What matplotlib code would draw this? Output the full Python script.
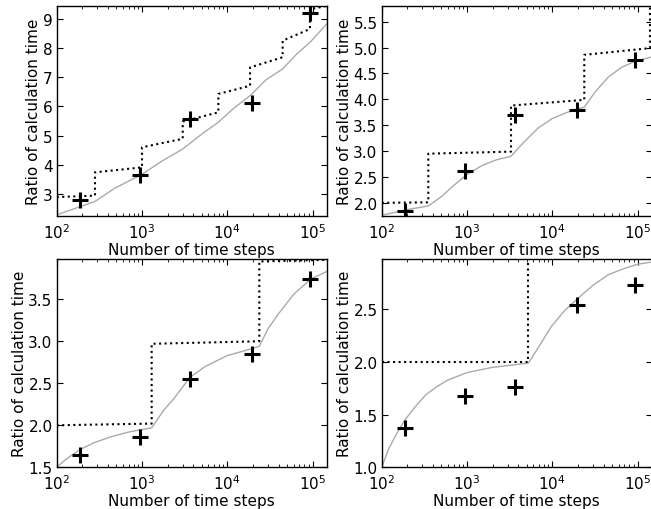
"""
Ratio of calculation time vs number of time steps, four cases
"""

import matplotlib
matplotlib.use("Agg")
import matplotlib.pyplot as plt


# DATA

# measured runs (crosses), same step counts in every panel
steps = [190, 950, 3650, 19500, 94000]
ratio_a = [2.78, 3.64, 5.56, 6.11, 9.20]
ratio_b = [1.84, 2.62, 3.69, 3.80, 4.76]
ratio_c = [1.65, 1.86, 2.55, 2.85, 3.74]
ratio_d = [1.37, 1.68, 1.76, 2.54, 2.73]

# model (grey line)
model_x_a = [100, 281, 482, 1000, 1700, 3000, 5000, 7850, 12000, 18460,
             28000, 44500, 65000, 93000, 146000]
model_y_a = [2.28, 2.74, 3.20, 3.67, 4.12, 4.54, 5.05, 5.46, 5.95, 6.37,
             6.90, 7.29, 7.80, 8.20, 8.83]
model_x_b = [100, 200, 352, 500, 660, 1000, 1500, 2200, 3280, 4500, 6860,
             10000, 15000, 23700, 32000, 45300, 65000, 94800, 146000]
model_y_b = [1.76, 1.87, 1.94, 2.12, 2.30, 2.55, 2.72, 2.83, 2.90, 3.15, 3.45,
             3.63, 3.75, 3.85, 4.15, 4.43, 4.62, 4.74, 4.82]
model_x_c = [100, 130, 187, 270, 422, 700, 1000, 1297, 1800, 2330, 3650, 5500,
             10000, 15000, 23700, 30000, 40000, 60000, 94800, 146000]
model_y_c = [1.50, 1.60, 1.71, 1.79, 1.86, 1.92, 1.95, 1.97, 2.18, 2.31, 2.57,
             2.70, 2.83, 2.88, 2.94, 3.15, 3.33, 3.56, 3.74, 3.83]
model_x_d = [100, 120, 150, 187, 250, 330, 450, 600, 1000, 2000, 5240, 7000,
             9770, 14000, 19600, 30000, 45300, 70000, 100000, 146000]
model_y_d = [1.00, 1.17, 1.32, 1.45, 1.58, 1.69, 1.77, 1.83, 1.90, 1.95, 1.99,
             2.15, 2.34, 2.49, 2.60, 2.73, 2.83, 2.89, 2.93, 2.95]

# upper bound (dotted step line)
bound_x_a = [100, 281, 281, 1000, 1000, 3000, 3000, 7850, 7850, 18460, 18460,
             44500, 44500, 93000, 93000, 146000]
bound_y_a = [2.89, 2.94, 3.74, 3.91, 4.60, 4.89, 5.48, 5.80, 6.43, 6.71, 7.34,
             7.69, 8.26, 8.66, 9.34, 9.45]
bound_x_b = [100, 352, 352, 3280, 3280, 23700, 23700, 139600, 139600, 146000]
bound_y_b = [2.00, 2.01, 2.95, 2.99, 3.88, 3.99, 4.86, 4.99, 6.00, 6.00]
bound_x_c = [100, 1297, 1297, 23700, 23700, 146000]
bound_y_c = [2.00, 2.02, 2.97, 3.00, 3.95, 3.97]
bound_x_d = [100, 5240, 5240, 146000]
bound_y_d = [2.00, 2.00, 3.00, 3.00]

ylims = [(2.23, 9.46), (1.74, 5.81), (1.5, 3.98), (1.0, 2.98)]
yticks = [[3, 4, 5, 6, 7, 8, 9],
          [2.0, 2.5, 3.0, 3.5, 4.0, 4.5, 5.0, 5.5],
          [1.5, 2.0, 2.5, 3.0, 3.5],
          [1.0, 1.5, 2.0, 2.5]]


# STYLE
plt.rcParams['font.family'] = 'DejaVu Sans'
plt.rcParams['font.size'] = 11
plt.rcParams['xtick.direction'] = 'in'
plt.rcParams['ytick.direction'] = 'in'
plt.rcParams['xtick.top'] = True
plt.rcParams['ytick.right'] = True
plt.rcParams['xtick.major.size'] = 4
plt.rcParams['ytick.major.size'] = 4
plt.rcParams['xtick.minor.size'] = 2
plt.rcParams['xtick.major.pad'] = 4
plt.rcParams['ytick.major.pad'] = 3
plt.rcParams['axes.linewidth'] = 1.0


# VIEW
fig = plt.figure(figsize=(6.51, 5.10), dpi=100)
positions = [(0.0871, 0.5739, 0.4147, 0.413),
             (0.5863, 0.5739, 0.4147, 0.413),
             (0.0871, 0.0818, 0.4147, 0.4085),
             (0.5863, 0.0818, 0.4147, 0.4085)]

panels = [
    (ratio_a, model_x_a, model_y_a, bound_x_a, bound_y_a),
    (ratio_b, model_x_b, model_y_b, bound_x_b, bound_y_b),
    (ratio_c, model_x_c, model_y_c, bound_x_c, bound_y_c),
    (ratio_d, model_x_d, model_y_d, bound_x_d, bound_y_d),
]

for i, (ratio, mx, my, bx, by) in enumerate(panels):
    ax = fig.add_axes(positions[i])
    ax.plot(mx, my, color='#aaaaaa', linewidth=1.0)
    ax.plot(bx, by, color='k', linestyle=':', linewidth=1.5)
    ax.plot(steps, ratio, '+', color='k', markersize=12, markeredgewidth=2.2)
    ax.set_xscale('log')
    ax.set_xlim(100, 146000)
    ax.set_ylim(*ylims[i])
    ax.set_yticks(yticks[i])
    ax.set_xlabel("Number of time steps", labelpad=1)
    ax.set_ylabel("Ratio of calculation time", labelpad=1)

fig.savefig("out.png", dpi=100)
